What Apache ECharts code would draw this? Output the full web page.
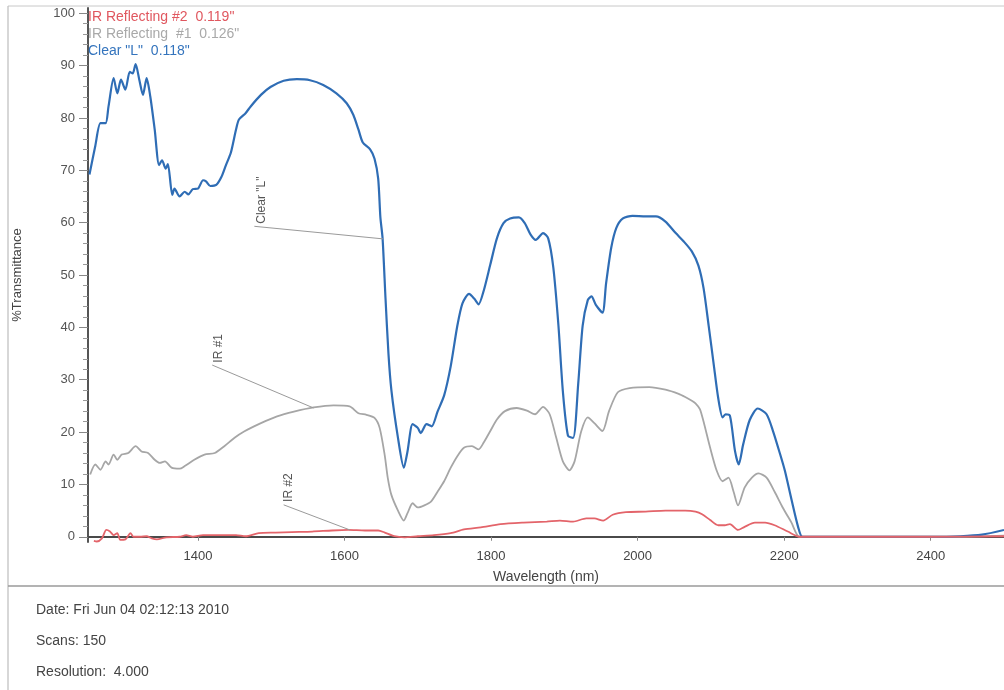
<!DOCTYPE html>
<html>
<head>
<meta charset="utf-8">
<script src="https://cdn.jsdelivr.net/npm/echarts@6/dist/echarts.min.js"></script>
<style>
html,body{margin:0;padding:0;background:#fff;}
#chart{width:1004px;height:690px;}
</style>
</head>
<body>
<div id="chart"></div>
<script>
// ---- Data (wavelength in nm, %Transmittance) ----
const clearWl = [1252,1260,1267,1274,1278,1285,1290,1295,1301,1307,1311,1315,1320,1325,1330,1335,1341,1347,1351,1356,1359,1365,1368,1375,1382,1387,1393,1400,1407,1411,1417,1425,1432,1438,1445,1452,1456,1465,1472,1486,1499,1517,1535,1553,1571,1589,1603,1612,1619,1625,1635,1641,1646,1649,1652,1656,1660,1664,1673,1681,1686,1693,1700,1704,1712,1719,1727,1736,1745,1754,1761,1770,1777,1783,1790,1799,1808,1817,1826,1838,1846,1854,1861,1871,1878,1885,1892,1898,1905,1912,1919,1925,1932,1937,1943,1952,1957,1964,1971,1980,1993,2011,2025,2038,2052,2063,2074,2083,2090,2097,2104,2110,2116,2120,2126,2133,2138,2144,2153,2164,2176,2185,2194,2201,2210,2219,2225,2260,2300,2350,2400,2440,2470,2500];
const clearT  = [69.2,74.7,79,79,82.2,87.6,84.7,87.3,85.4,88.8,88.5,90.3,87.3,84.4,87.6,84.1,77.8,71,71.9,70.3,71.2,65.3,66.5,65,65.9,65.4,66.4,66.5,68.1,67.9,67,67.2,68.7,70.9,73.4,77.8,79.7,80.9,82.2,84.4,85.9,87.1,87.4,87.2,86.3,84.7,82.8,80.6,77.8,75.3,74,72.2,68.4,61,57,45.5,35,28,18.9,13.2,16.3,21.5,20.8,19.8,21.5,21.1,23.9,27,32.6,40.3,44.6,46.4,45.5,44.4,47,52,57,59.9,60.8,61,59.9,57.7,56.7,58,57,51.4,40.3,27.8,19.3,18.9,29.3,40.3,45.2,45.9,44.3,42.8,48.4,55.2,59,60.8,61.3,61.2,61.2,60.2,58,56.4,54.5,51.8,47.5,40.3,32.8,26.5,22.8,23.4,23.1,16.3,13.8,17.6,22.3,24.5,23.4,20.1,16,12.6,7.1,1.9,0,0,0,0,0,0.1,0.4,1.3];

const ir1Wl = [1253,1260,1267,1274,1278,1285,1290,1296,1305,1315,1323,1332,1341,1348,1355,1364,1375,1382,1395,1409,1423,1436,1450,1463,1486,1508,1531,1558,1585,1607,1619,1630,1641,1648,1655,1659,1664,1673,1681,1686,1693,1700,1709,1718,1727,1736,1745,1754,1763,1774,1783,1790,1799,1808,1819,1835,1849,1860,1871,1880,1889,1898,1907,1914,1923,1932,1941,1952,1961,1973,1989,2016,2038,2056,2065,2074,2079,2085,2090,2099,2108,2116,2124,2131,2137,2146,2156,2165,2176,2187,2198,2210,2221,2260,2350,2440,2500];
const ir1T  = [11.9,13.8,12.8,14.4,13.8,15.7,14.7,15.7,16,17.3,16.3,16,14.7,14.1,14.4,13.2,13,13.5,14.7,15.7,16,17.3,18.9,20.1,21.7,23,23.9,24.7,25.1,24.9,23.6,23.3,22.7,20.8,15.5,11.3,8,5,3.1,4.5,6.4,5.6,6,6.7,8.6,10.6,13.2,15.4,17,17.3,16.7,18,20.2,22.4,24,24.6,24.1,23.4,24.8,23.4,18.9,14.4,12.7,14.4,20.1,22.8,21.7,20.2,24,27.6,28.4,28.6,28.1,27.3,26.7,26,25.5,24.4,22,17,12.6,10.6,11.3,8.6,6,9.4,11.3,12.1,11.3,8.6,5.6,2.7,0,0,0,0,0.2];

const ir2Wl = [1258,1262,1269,1275,1280,1285,1290,1294,1301,1308,1312,1321,1330,1337,1344,1357,1375,1384,1393,1407,1429,1452,1465,1483,1506,1528,1556,1583,1605,1628,1646,1655,1668,1682,1700,1722,1745,1763,1786,1813,1844,1876,1894,1912,1930,1941,1953,1966,1984,2011,2038,2065,2079,2088,2099,2110,2119,2126,2137,2146,2160,2174,2187,2205,2221,2300,2400,2500];
const ir2T  = [-0.8,-0.9,-0.3,1.3,1.0,0.3,0.7,-0.6,-0.5,0.7,0,0,0.1,-0.3,-0.5,-0.1,0,0.3,0,0.3,0.3,0.3,0.1,0.7,0.8,0.9,1.0,1.2,1.3,1.2,1.2,0.8,0.1,-0.1,0.1,0.3,0.7,1.4,1.8,2.4,2.7,2.9,3.1,2.9,3.5,3.5,3.1,4.2,4.7,4.8,5.0,5.0,4.8,4.3,3.2,2.2,2.2,2.4,1.3,1.9,2.7,2.7,2.2,1.0,0,0,0,0.1];

const seriesNames = ['IR Reflecting #2  0.119"', 'IR Reflecting  #1  0.126"', 'Clear "L"  0.118"'];
const yTickLabels = [0,10,20,30,40,50,60,70,80,90,100];
const yMinorTicks = [2,4,6,8,12,14,16,18,22,24,26,28,32,34,36,38,42,44,46,48,52,54,56,58,62,64,66,68,72,74,76,78,82,84,86,88,92,94,96,98];
const xTickLabels = [1400,1600,1800,2000,2200,2400];

// annotation text anchors and leader lines (data coordinates)
const annClear = { label: 'Clear "L"', at: [1487, 64.3], from: [1477, 59.3], to: [1652.6, 56.9] };
const annIr1   = { label: 'IR #1',     at: [1429, 36.0], from: [1419.5, 32.8], to: [1557.8, 24.6] };
const annIr2   = { label: 'IR #2',     at: [1524, 9.4],  from: [1517, 6.1],  to: [1607.5, 1.3] };

const zip = (a, b) => a.map((x, i) => [x, b[i]]);
const FONT = '"Liberation Sans", Arial, sans-serif';

function annotation(a) {
  return {
    markLine: {
      silent: true, symbol: ['none', 'none'], animation: false,
      lineStyle: { color: '#9a9a9a', width: 1, type: 'solid' },
      label: { show: false },
      data: [[{ coord: a.from }, { coord: a.to }]]
    },
    markPoint: {
      silent: true, symbol: 'circle', symbolSize: 0, animation: false,
      label: { show: true, position: 'inside', rotate: 90, formatter: a.label,
               color: '#555', fontSize: 12, fontFamily: FONT },
      data: [{ coord: a.at }]
    }
  };
}

const chart = echarts.init(document.getElementById('chart'), null, { renderer: 'canvas' });
chart.setOption({
  animation: false,
  backgroundColor: '#fff',
  textStyle: { fontFamily: FONT },
  grid: { left: 88, right: -8, top: 8, bottom: 148, containLabel: false },
  legend: {
    orient: 'vertical', left: 83, top: 10, itemGap: 3, icon: 'none',
    itemWidth: 0, itemHeight: 14, padding: 0, selectedMode: false,
    textStyle: { fontSize: 14, fontFamily: FONT },
    data: [
      { name: seriesNames[0], textStyle: { color: '#e0575f' } },
      { name: seriesNames[1], textStyle: { color: '#a9a9a9' } },
      { name: seriesNames[2], textStyle: { color: '#3474bd' } }
    ]
  },
  xAxis: {
    type: 'value', min: 1250, max: 2500,
    name: 'Wavelength (nm)', nameLocation: 'middle', nameGap: 28,
    nameTextStyle: { fontSize: 14, color: '#444', fontFamily: FONT },
    axisLine: { show: true, lineStyle: { color: '#4a4a4a', width: 2 } },
    axisTick: { show: true, customValues: xTickLabels, length: 4, lineStyle: { color: '#888' } },
    axisLabel: { customValues: xTickLabels, fontSize: 13, color: '#444', margin: 8, fontFamily: FONT,
                 formatter: (v) => String(v) },
    splitLine: { show: false }
  },
  yAxis: [{
    type: 'value', min: -1, max: 101,
    name: '%Transmittance', nameLocation: 'middle', nameGap: 64,
    nameTextStyle: { fontSize: 13, color: '#444', fontFamily: FONT },
    axisLine: { show: true, lineStyle: { color: '#555', width: 2 } },
    axisTick: { show: true, customValues: yTickLabels, length: 9, lineStyle: { color: '#888' } },
    axisLabel: { customValues: yTickLabels, fontSize: 13, color: '#555', margin: 13, fontFamily: FONT,
                 formatter: (v) => String(v) },
    splitLine: { show: false }
  }, {
    type: 'value', min: -1, max: 101, position: 'left', offset: 0,
    axisLine: { show: false },
    axisTick: { show: true, customValues: yMinorTicks, length: 5, lineStyle: { color: '#999' } },
    axisLabel: { show: false, customValues: yMinorTicks },
    splitLine: { show: false }
  }],
  series: [
    Object.assign({
      name: seriesNames[1], type: 'line', data: zip(ir1Wl, ir1T),
      showSymbol: false, smooth: 0.25, z: 2,
      lineStyle: { color: '#a6a6a6', width: 1.8 }, itemStyle: { color: '#a6a6a6' }
    }, annotation(annIr1)),
    Object.assign({
      name: seriesNames[2], type: 'line', data: zip(clearWl, clearT),
      showSymbol: false, smooth: 0.25, z: 3,
      lineStyle: { color: '#2f6db5', width: 2.2 }, itemStyle: { color: '#2f6db5' }
    }, annotation(annClear)),
    Object.assign({
      name: seriesNames[0], type: 'line', data: zip(ir2Wl, ir2T),
      showSymbol: false, smooth: 0.25, z: 4,
      lineStyle: { color: '#e3646a', width: 1.8 }, itemStyle: { color: '#e3646a' }
    }, annotation(annIr2))
  ],
  graphic: [
    { type: 'line', shape: { x1: 8, y1: 6, x2: 1004, y2: 6 }, style: { stroke: '#c8c8c8', lineWidth: 1 } },
    { type: 'line', shape: { x1: 8, y1: 6, x2: 8, y2: 690 }, style: { stroke: '#bdbdbd', lineWidth: 1.2 } },
    { type: 'line', shape: { x1: 8, y1: 586, x2: 1004, y2: 586 }, style: { stroke: '#9a9a9a', lineWidth: 1.5 } },
    { type: 'text', left: 36, top: 603, style: { text: 'Date: Fri Jun 04 02:12:13 2010', fill: '#444', font: '14px ' + FONT } },
    { type: 'text', left: 36, top: 634, style: { text: 'Scans: 150', fill: '#444', font: '14px ' + FONT } },
    { type: 'text', left: 36, top: 665, style: { text: 'Resolution:  4.000', fill: '#444', font: '14px ' + FONT } }
  ]
});
</script>
</body>
</html>
